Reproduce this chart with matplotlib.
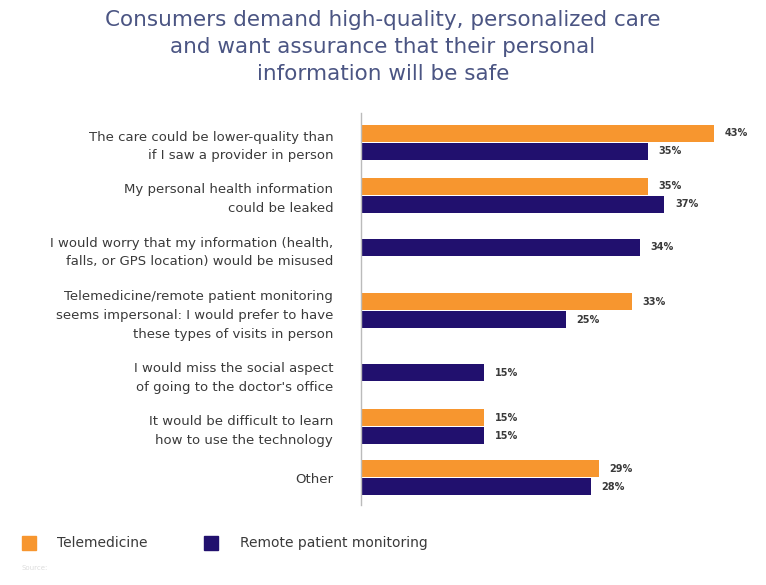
import numpy as np
import matplotlib.pyplot as plt
from matplotlib.patches import Rectangle

# Data
categories = [
    "The care could be lower-quality than\nif I saw a provider in person",
    "My personal health information\ncould be leaked",
    "I would worry that my information (health,\nfalls, or GPS location) would be misused",
    "Telemedicine/remote patient monitoring\nseems impersonal: I would prefer to have\nthese types of visits in person",
    "I would miss the social aspect\nof going to the doctor's office",
    "It would be difficult to learn\nhow to use the technology",
    "Other",
]
telemedicine = [43, 35, None, 33, None, 15, 29]
remote = [35, 37, 34, 25, 15, 15, 28]
series_names = ["Telemedicine", "Remote patient monitoring"]

ORANGE = "#F7962F"
NAVY = "#21106E"
TEXT = "#3a3a3a"
TITLE = "#4b5583"

# Layout in pixel units (y grows downward)
bar_h = 18
line_h = 20
pad = 13
heights = []
for lab, t in zip(categories, telemedicine):
    nlines = lab.count("\n") + 1
    nbars = 2 if t is not None else 1
    heights.append(max(nlines * line_h, nbars * bar_h))
ypos = [142]
for i in range(1, len(categories)):
    ypos.append(ypos[-1] + (heights[i - 1] + heights[i]) / 2 + pad)

fig = plt.figure(figsize=(7.66, 5.85), dpi=100)
ax = fig.add_axes([361 / 766, 1 - 505 / 585, 1 - 361 / 766, (505 - 113) / 585])

def value_label(x, y):
    ax.text(x + 1.3, y, f"{x}%", va="center", ha="left",
            fontsize=7, color=TEXT, fontweight="bold")

for y, t, r in zip(ypos, telemedicine, remote):
    if t is not None:
        ax.barh(y - bar_h / 2, t, height=bar_h - 1, color=ORANGE)
        value_label(t, y - bar_h / 2)
        ax.barh(y + bar_h / 2, r, height=bar_h - 1, color=NAVY)
        value_label(r, y + bar_h / 2)
    else:
        ax.barh(y - 1, r, height=bar_h - 1, color=NAVY)
        value_label(r, y - 1)

ax.set_xlim(0, 49.4)
ax.set_ylim(505, 113)
ax.set_yticks(ypos)
ax.set_yticklabels(categories, fontsize=9.5, color=TEXT, linespacing=1.6)
ax.tick_params(axis="y", length=0, pad=20)
ax.set_xticks([])
for s in ["top", "right", "bottom"]:
    ax.spines[s].set_visible(False)
ax.spines["left"].set_color("#bbbbbb")
ax.spines["left"].set_linewidth(1)

# Title
fig.text(0.5, 1 - 47 / 585,
         "Consumers demand high-quality, personalized care\n"
         "and want assurance that their personal\n"
         "information will be safe",
         ha="center", va="center", fontsize=15.5, color=TITLE,
         linespacing=1.45)

# Legend
fig.patches.append(Rectangle((22 / 766, 1 - 550 / 585), 14 / 766, 14 / 585,
                             transform=fig.transFigure, color=ORANGE))
fig.text(57 / 766, 1 - 543 / 585, series_names[0], fontsize=10, color=TEXT,
         va="center")
fig.patches.append(Rectangle((204 / 766, 1 - 550 / 585), 14 / 766, 14 / 585,
                             transform=fig.transFigure, color=NAVY))
fig.text(240 / 766, 1 - 543 / 585, series_names[1], fontsize=10, color=TEXT,
         va="center")

fig.text(22 / 766, 1 - 568 / 585, "Source:", fontsize=5, color="#dddddd",
         va="center")

fig.savefig("out.png", dpi=100, facecolor="white")
